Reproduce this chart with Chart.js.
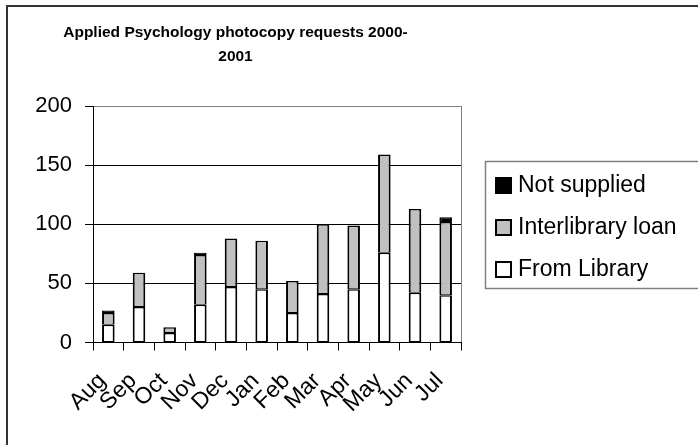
<!DOCTYPE html>
<html>
<head>
<meta charset="utf-8">
<script src="https://cdn.jsdelivr.net/npm/chart.js@4.4.1/dist/chart.umd.min.js"></script>
<style>
  html, body { margin: 0; padding: 0; background: #fff; }
  #wrap { width: 698px; height: 445px; }
</style>
</head>
<body>
<div id="wrap"><canvas id="c" width="698" height="445"></canvas></div>
<script>
// photocopy requests per month
var months = ['Aug', 'Sep', 'Oct', 'Nov', 'Dec', 'Jan', 'Feb', 'Mar', 'Apr', 'May', 'Jun', 'Jul'];
var fromLibrary = [15, 30, 8, 32, 47, 45, 25, 41, 45, 76, 42, 40];
var interlibraryLoan = [10, 29, 5, 42, 41, 41, 27, 59, 54, 83, 71, 62];
var notSupplied = [2, 0, 0, 2, 0, 0, 0, 0, 0, 0, 0, 4];
var yTicks = [0, 50, 100, 150, 200];

var FONT = '"Liberation Sans", Arial, sans-serif';

// frame round the chart and the boxed legend on the right
var extras = {
  id: 'extras',
  afterDraw: function(chart) {
    var ctx = chart.ctx;
    ctx.save();
    ctx.strokeStyle = '#333';
    ctx.lineWidth = 2;
    ctx.beginPath();
    ctx.moveTo(7, 445);
    ctx.lineTo(7, 6);
    ctx.lineTo(698, 6);
    ctx.stroke();

    ctx.strokeStyle = '#808080';
    ctx.lineWidth = 1.5;
    ctx.strokeRect(485.5, 161.5, 240, 127);

    var sets = chart.data.datasets.slice().reverse();
    ctx.font = '23px ' + FONT;
    ctx.textBaseline = 'middle';
    ctx.textAlign = 'left';
    for (var i = 0; i < sets.length; i++) {
      var cy = 185 + i * 42;
      ctx.fillStyle = sets[i].backgroundColor;
      ctx.fillRect(496, cy - 7, 15, 15);
      ctx.strokeStyle = '#000';
      ctx.lineWidth = 2;
      ctx.strokeRect(496, cy - 7, 15, 15);
      ctx.fillStyle = '#000';
      ctx.fillText(sets[i].label, 518, cy + 1);
    }
    ctx.restore();
  }
};

var ctx = document.getElementById('c').getContext('2d');
var chart = new Chart(ctx, {
  type: 'bar',
  data: {
    labels: months,
    datasets: [{
      label: 'From Library',
      data: fromLibrary,
      backgroundColor: '#ffffff'
    }, {
      label: 'Interlibrary loan',
      data: interlibraryLoan,
      backgroundColor: '#c0c0c0'
    }, {
      label: 'Not supplied',
      data: notSupplied,
      backgroundColor: '#000000'
    }]
  },
  options: {
    responsive: false,
    animation: false,
    devicePixelRatio: 1,
    layout: { padding: { top: 0, left: 10, right: 237, bottom: 0 } },
    datasets: {
      bar: {
        borderColor: '#000',
        borderWidth: { top: 1.5, bottom: 1, left: 2, right: 2 },
        borderSkipped: false,
        categoryPercentage: 1,
        barPercentage: 0.41
      }
    },
    plugins: {
      legend: { display: false },
      tooltip: { enabled: false },
      title: {
        display: true,
        text: ['Applied Psychology photocopy requests 2000-', '2001'],
        color: '#000',
        font: { family: FONT, size: 15.5, weight: 'bold', lineHeight: 1.55 },
        padding: { top: 21, bottom: 37 }
      }
    },
    scales: {
      x: {
        stacked: true,
        afterFit: function(scale) { scale.height = 102.5; },
        border: { display: true, color: '#000', width: 1 },
        grid: {
          offset: true,
          drawOnChartArea: true,
          color: function(c) { return c.type === 'tick' ? 'rgba(0,0,0,0)' : '#808080'; },
          tickColor: '#000',
          tickLength: 8
        },
        ticks: {
          color: '#000',
          font: { family: FONT, size: 23 },
          minRotation: 45,
          maxRotation: 45,
          padding: 17,
          labelOffset: -6,
          autoSkip: false
        }
      },
      y: {
        stacked: true,
        min: 0,
        max: 200,
        afterFit: function(scale) { scale.width = 83; },
        afterBuildTicks: function(scale) {
          scale.ticks = yTicks.map(function(v) { return { value: v }; });
        },
        border: { display: true, color: '#000', width: 1 },
        grid: {
          color: function(c) { return c.tick && c.tick.value === 200 ? '#808080' : '#000'; },
          tickColor: '#000',
          tickLength: 8
        },
        ticks: {
          color: '#000',
          font: { family: FONT, size: 22 },
          padding: 13
        }
      }
    }
  },
  plugins: [extras]
});
</script>
</body>
</html>
